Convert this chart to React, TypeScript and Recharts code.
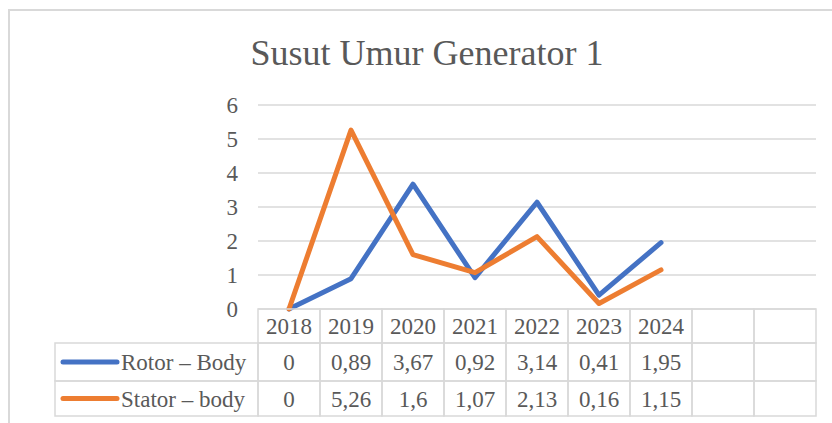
import React from 'react';
import { LineChart, Line, XAxis, YAxis, CartesianGrid } from 'recharts';

const years = ['2018', '2019', '2020', '2021', '2022', '2023', '2024'];
const rotorBody = [0, 0.89, 3.67, 0.92, 3.14, 0.41, 1.95];
const statorBody = [0, 5.26, 1.6, 1.07, 2.13, 0.16, 1.15];
const yTicks = [0, 1, 2, 3, 4, 5, 6];
const columnIdx = [0, 1, 2, 3, 4, 5, 6, 7, 8];
const seriesNames = { rotor: 'Rotor – Body', stator: 'Stator – body' };

const BLUE = '#4472C4';
const ORANGE = '#ED7D31';
const GRID = '#d9d9d9';
const TEXT = '#595959';
const FONT =
  '"Liberation Serif", Tinos, "Times New Roman", Times, "Noto Serif", "DejaVu Serif", FreeSerif, "Nimbus Roman", "Nimbus Roman No9 L", serif';

const W = 832;
const H = 423;
const M = { top: 105, right: 16, bottom: 7, left: 0 };
const YAXIS_W = 258;
const PLOT_W = W - M.left - M.right - YAXIS_W;
const CELL_W = PLOT_W / columnIdx.length;
const LEGEND_W = 203;
const X_DOMAIN: [number, number] = [-0.5, 8.5];

const data = years.map((y, i) => ({ x: i, year: y, rotor: rotorBody[i], stator: statorBody[i] }));

const fmt = (v: number | undefined) => (v === undefined ? '' : String(v).replace('.', ','));

function CellTick(props: any) {
  const { x, y, payload, h, row } = props;
  const i = Math.round(payload.value as number);
  let label = '';
  if (row === 'year') label = years[i] ?? '';
  else if (row === 'rotor') label = fmt(rotorBody[i]);
  else label = fmt(statorBody[i]);
  const left = x - CELL_W / 2;
  return (
    <g>
      <rect x={left} y={y} width={CELL_W} height={h} fill="none" stroke={GRID} strokeWidth={1.5} />
      <text x={x} y={y + h / 2} dy="0.35em" textAnchor="middle" fill={TEXT} fontSize={23} fontFamily={FONT}>
        {label}
      </text>
      {i === 0 && row !== 'year' && (
        <g>
          <rect x={left - LEGEND_W} y={y} width={LEGEND_W} height={h} fill="none" stroke={GRID} strokeWidth={1.5} />
          <line
            x1={left - LEGEND_W + 8}
            x2={left - LEGEND_W + 62}
            y1={y + h / 2}
            y2={y + h / 2}
            stroke={row === 'rotor' ? BLUE : ORANGE}
            strokeWidth={5}
            strokeLinecap="round"
          />
          <text
            x={left - LEGEND_W + 66}
            y={y + h / 2}
            dy="0.35em"
            textAnchor="start"
            fill={TEXT}
            fontSize={23}
            fontFamily={FONT}
          >
            {row === 'rotor' ? seriesNames.rotor : seriesNames.stator}
          </text>
        </g>
      )}
    </g>
  );
}

const axisCommon = {
  type: 'number' as const,
  dataKey: 'x',
  domain: X_DOMAIN,
  allowDataOverflow: true,
  ticks: columnIdx,
  interval: 0 as const,
  axisLine: false,
  tickLine: false,
  tickSize: 0,
  tickMargin: 0,
};

export default function App() {
  return (
    <div style={{ position: 'absolute', left: 0, top: 0, width: W, height: H, overflow: 'hidden', background: '#fff' }}>
      <div
        style={{
          position: 'absolute',
          left: 8,
          top: 9,
          width: 900,
          height: 500,
          border: `2px solid ${GRID}`,
        }}
      />
      <div
        style={{
          position: 'absolute',
          left: 0,
          width: 854,
          top: 32,
          textAlign: 'center',
          fontFamily: FONT,
          fontSize: 36,
          color: TEXT,
          lineHeight: 'normal',
          whiteSpace: 'nowrap',
        }}
      >
        Susut Umur Generator 1
      </div>
      <div style={{ position: 'absolute', left: 0, top: 0 }}>
        <LineChart width={W} height={H} data={data} margin={M}>
          <CartesianGrid vertical={false} stroke={GRID} strokeWidth={1.5} />
          <YAxis
            type="number"
            domain={[0, 6]}
            ticks={yTicks}
            interval={0}
            width={YAXIS_W}
            axisLine={false}
            tickLine={false}
            tickSize={0}
            tickMargin={20}
            tick={{ fill: TEXT, fontSize: 23, fontFamily: FONT }}
          />
          <XAxis xAxisId="a_year" height={34} {...axisCommon} tick={<CellTick row="year" h={34} />} />
          <XAxis xAxisId="b_rotor" height={38} {...axisCommon} tick={<CellTick row="rotor" h={38} />} />
          <XAxis xAxisId="c_stator" height={35} {...axisCommon} tick={<CellTick row="stator" h={35} />} />
          <Line
            xAxisId="a_year"
            type="linear"
            dataKey="rotor"
            name={seriesNames.rotor}
            stroke={BLUE}
            strokeWidth={5}
            strokeLinecap="round"
            strokeLinejoin="round"
            dot={false}
            isAnimationActive={false}
          />
          <Line
            xAxisId="a_year"
            type="linear"
            dataKey="stator"
            name={seriesNames.stator}
            stroke={ORANGE}
            strokeWidth={5}
            strokeLinecap="round"
            strokeLinejoin="round"
            dot={false}
            isAnimationActive={false}
          />
        </LineChart>
      </div>
    </div>
  );
}
